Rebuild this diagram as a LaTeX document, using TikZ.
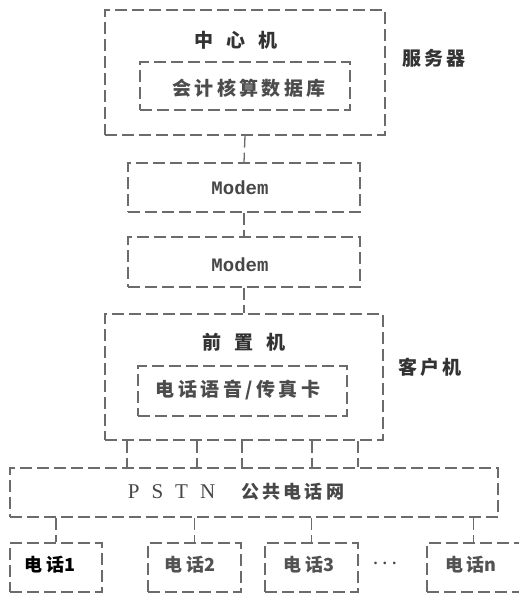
\documentclass[tikz,border=0pt]{standalone}
\usepackage{fontspec}
\setmainfont{Liberation Serif}
\newfontfamily\cjk[LetterSpace=18]{Noto Sans CJK SC}
\newfontfamily\cjkplain{Noto Sans CJK SC}
\newfontfamily\monof{Liberation Mono}
\begin{document}
\begin{tikzpicture}[x=1pt,y=-1pt,
  box/.style={draw=black!58, line width=1.3pt, dash pattern=on 12pt off 5pt, inner sep=0pt, rectangle},
  conn/.style={draw=black!58, line width=1.3pt, dash pattern=on 12pt off 5pt},
  lbl/.style={text=black!70, inner sep=0pt, font=\cjk\bfseries\fontsize{19}{22}\selectfont},
  blbl/.style={text=black!80, inner sep=0pt, font=\cjk\bfseries\fontsize{19}{22}\selectfont},
  mlbl/.style={text=black!72, inner sep=0pt, font=\monof\bfseries\fontsize{19}{21}\selectfont},
  plbl/.style={text=black!68, inner sep=0pt, font=\cjk\bfseries\fontsize{18}{21}\selectfont}]
\useasboundingbox (0,0) rectangle (519,595);
\clip (0,0) rectangle (519,595);
\fill[white] (0,0) rectangle (519,595);
% server
\node[box, minimum width=280pt, minimum height=125pt] (srv) at (245,72.5) {};
\node[blbl] (srvt) at (236,40) {中\hspace{13pt}心\hspace{13pt}机};
\node[box, minimum width=210pt, minimum height=48pt] (db) at (245,86) {};
\node[lbl] (dbt) at (249,88) {会计核算数据库};
\node[blbl] (srvlab) at (434,58) {服务器};
% modems
\node[box, minimum width=232pt, minimum height=49pt] (m1) at (244,187.5) {};
\node[mlbl] (m1t) at (240,188) {Modem};
\node[box, minimum width=232pt, minimum height=50pt] (m2) at (244,262) {};
\node[mlbl] (m2t) at (240,265) {Modem};
% client
\node[box, minimum width=278pt, minimum height=126pt] (cl) at (244,377) {};
\node[blbl] (clt) at (244,342) {前\hspace{13pt}置\hspace{13pt}机};
\node[box, minimum width=209pt, minimum height=50pt] (card) at (242.5,391) {};
\node[lbl] (cardt) at (238,390) {电话语音/传真卡};
\node[blbl] (cllab) at (430,367) {客户机};
% PSTN
\node[text=black!72, inner sep=0pt] (pstnt) at (236,492) {\fontsize{21}{24}\selectfont P\hspace{12pt}S\hspace{12pt}T\hspace{12pt}N\hspace{26pt}{\cjk\bfseries\fontsize{18}{21}\selectfont 公共电话网}};
\node[box, minimum width=488pt, minimum height=49pt] (pstn) at (254,492.5) {};
% phones
\node[box, minimum width=92pt, minimum height=49pt] (ph1) at (56,567.5) {};
\node[plbl, text=black] (ph1t) at (50,565) {电话\cjkplain 1};
\node[box, minimum width=93pt, minimum height=49pt] (ph2) at (194.5,567.5) {};
\node[plbl] (ph2t) at (190,565) {电话\cjkplain 2};
\node[box, minimum width=93pt, minimum height=49pt] (ph3) at (311.5,567.5) {};
\node[plbl] (ph3t) at (309,565) {电话\cjkplain 3};
\node[box, minimum width=93pt, minimum height=49pt] (phn) at (473.5,567.5) {};
\node[plbl] (phnt) at (471,565) {电话\cjkplain n};
\node[text=black!72, inner sep=0pt, font=\bfseries\fontsize{16}{18}\selectfont] (dots) at (385,563) {. . .};
% connectors
\draw[conn] (srv.south) -- (m1.north);
\draw[conn] (m1.south) -- (m2.north);
\draw[conn] (m2.south) -- (cl.north);
\foreach \xx in {127,197,242,312,358}
  \draw[conn] (cl.south -| \xx,0) -- (pstn.north -| \xx,0);
\foreach \pp in {ph1,ph2,ph3,phn}
  \draw[conn] (pstn.south -| \pp.north) -- (\pp.north);
\end{tikzpicture}
\end{document}
